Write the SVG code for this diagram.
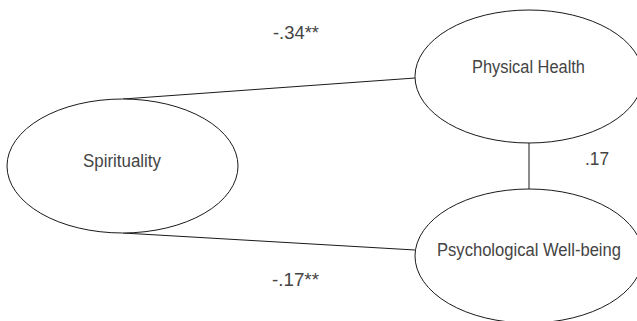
<svg xmlns="http://www.w3.org/2000/svg" width="637" height="321" viewBox="0 0 637 321">
<style>
.node ellipse{fill:#fff;stroke:#1a1a1a;stroke-width:1}
.lbl{font-family:"Liberation Sans",Arial,sans-serif;font-size:17.5px;fill:#444}
.conn line{stroke:#1a1a1a;stroke-width:1}
</style>
<rect width="637" height="321" fill="#fff"/>
<g id="connectors" class="conn">
<line x1="123" y1="99" x2="415" y2="78"/>
<line x1="123" y1="233" x2="415" y2="250"/>
<line x1="529" y1="143" x2="529" y2="189"/>
</g>
<g id="spirituality" class="node">
<ellipse cx="122.5" cy="166" rx="115.5" ry="67"/>
<text class="lbl" x="83" y="167" textLength="78" lengthAdjust="spacingAndGlyphs">Spirituality</text>
</g>
<g id="physical-health" class="node">
<ellipse cx="529" cy="76.5" rx="114" ry="66.5"/>
<text class="lbl" x="472" y="73.3" textLength="113" lengthAdjust="spacingAndGlyphs">Physical Health</text>
</g>
<g id="psych-wellbeing" class="node">
<ellipse cx="529" cy="256" rx="114" ry="67"/>
<text class="lbl" x="437" y="256" textLength="184" lengthAdjust="spacingAndGlyphs">Psychological Well-being</text>
</g>
<g id="labels">
<text class="lbl" x="273" y="39" textLength="46" lengthAdjust="spacingAndGlyphs">-.34**</text>
<text class="lbl" x="585" y="165" textLength="24" lengthAdjust="spacingAndGlyphs">.17</text>
<text class="lbl" x="272" y="286" textLength="47" lengthAdjust="spacingAndGlyphs">-.17**</text>
</g>
</svg>
